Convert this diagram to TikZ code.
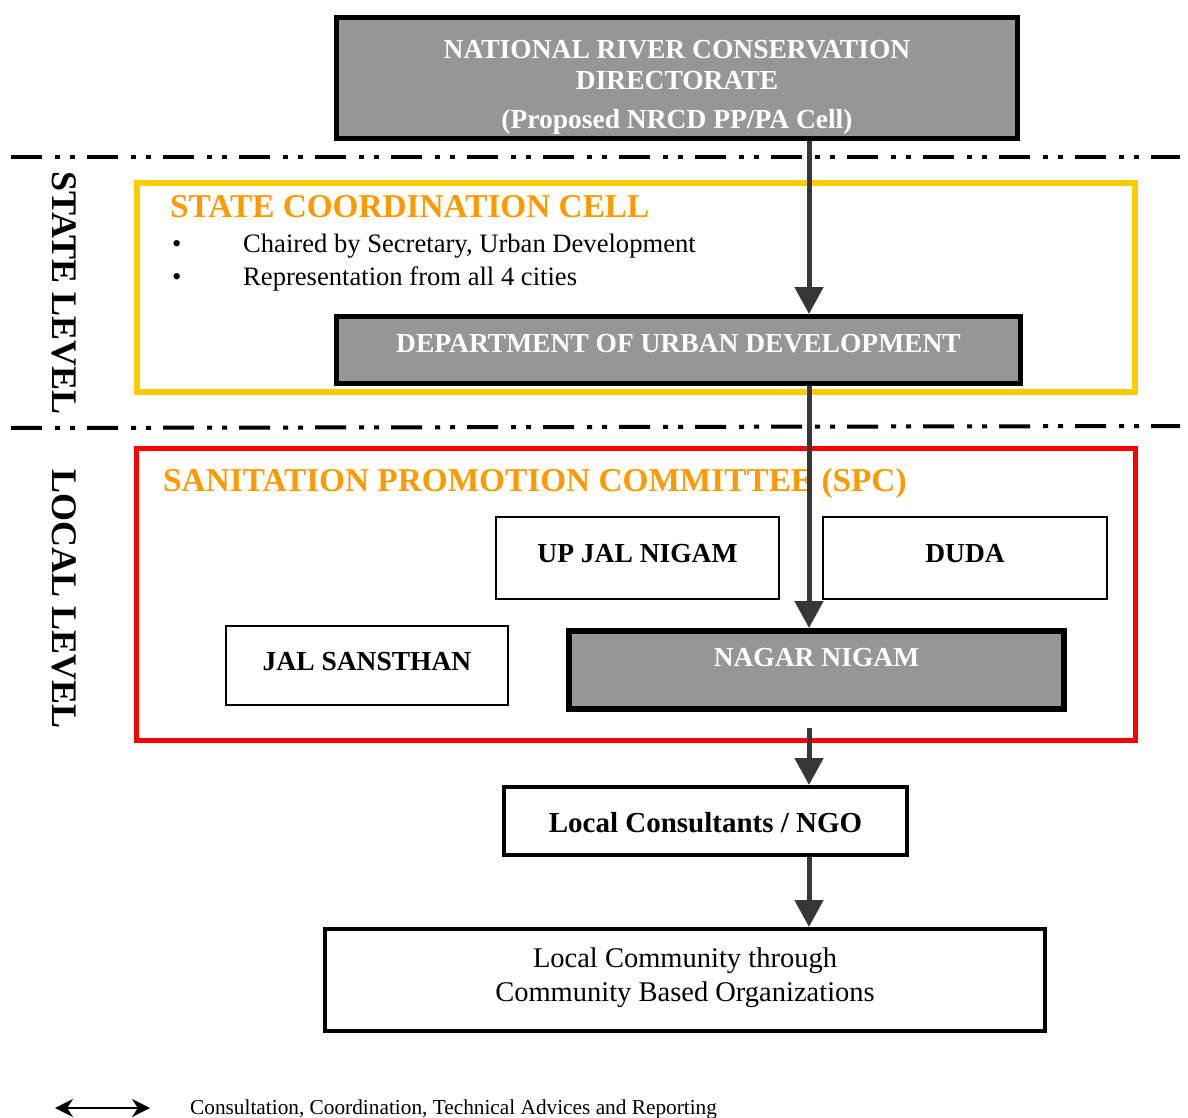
\documentclass[tikz,border=0pt]{standalone}
\usepackage{fontspec}
\setmainfont{Liberation Serif}
\usetikzlibrary{arrows.meta}
\definecolor{boxgray}{RGB}{150,150,150}
\definecolor{titleorange}{RGB}{255,153,0}
\definecolor{cellyellow}{RGB}{255,204,0}
\definecolor{arrowgray}{RGB}{55,55,55}
\begin{document}
\begin{tikzpicture}[x=1pt,y=-1pt,
  boxfont/.style={font=\bfseries\fontsize{27.5}{31}\selectfont},
  graybox/.style={draw=black, fill=boxgray, inner sep=0pt, text=white, boxfont},
  whitebox/.style={draw=black, line width=2pt, fill=white, inner sep=0pt, boxfont},
  frame/.style={line width=#1pt, inner sep=0pt},
  levelline/.style={line width=4pt, dash pattern=on 31pt off 13pt on 5pt off 10pt on 5pt off 12pt},
  flow/.style={draw=arrowgray, line width=5pt, -{Triangle[length=27pt,width=28pt]}},
  leveltext/.style={rotate=-90, inner sep=0pt, font=\bfseries\fontsize{36}{40}\selectfont},
  celltitle/.style={anchor=base west, inner sep=0pt, text=titleorange, font=\bfseries\fontsize{33.3}{36}\selectfont},
  bullettext/.style={anchor=base west, inner sep=0pt, font=\fontsize{26.6}{30}\selectfont},
]
\useasboundingbox (0,0) rectangle (1188,1118);

% level separators
\coordinate (t1) at (11,157);
\coordinate (t2) at (1180,157);
\coordinate (b1) at (11,428);
\coordinate (b2) at (1180,426);
\draw[levelline] (t1) -- (t2);
\draw[levelline] (b1) -- (b2);

% level labels
\node[leveltext] (statelvl) at (64,293) {STATE LEVEL};
\node[leveltext] (locallvl) at (64,599) {LOCAL LEVEL};

% top box
\node[graybox, line width=5pt, minimum width=681pt, minimum height=121pt] (nrcd) at (677,78) {};
\node[align=center, anchor=north, inner sep=0pt, text=white, boxfont] (nrcdtext) at (677,40)
  {NATIONAL RIVER CONSERVATION\\DIRECTORATE\\[8pt](Proposed NRCD PP/PA Cell)};

% state coordination cell
\node[draw=cellyellow, frame=6, minimum width=998pt, minimum height=209pt] (scc) at (636,287.5) {};
\node[celltitle] (scctitle) at (170,217) {STATE COORDINATION CELL};
\node[bullettext] (bul1) at (172,252) {•};
\node[bullettext] (bul2) at (172,285) {•};
\node[bullettext] (item1) at (243,252) {Chaired by Secretary, Urban Development};
\node[bullettext] (item2) at (243,285) {Representation from all 4 cities};

\node[graybox, line width=5pt, minimum width=684pt, minimum height=67pt, text height=18pt, text depth=14pt] (dud) at (678.5,350) {DEPARTMENT OF URBAN DEVELOPMENT};

% sanitation promotion committee
\node[draw=red, frame=5, minimum width=999pt, minimum height=292pt] (spc) at (636,594.5) {};
\node[celltitle] (spctitle) at (163,491) {SANITATION PROMOTION COMMITTEE (SPC)};

\node[whitebox, minimum width=283pt, minimum height=82pt, text height=18pt, text depth=10pt] (upjal) at (637.5,558) {UP JAL NIGAM};
\node[whitebox, minimum width=284pt, minimum height=82pt, text height=18pt, text depth=10pt] (duda) at (965,558) {DUDA};
\node[whitebox, minimum width=282pt, minimum height=79pt, text height=18pt, text depth=8pt] (jal) at (367,665.5) {JAL SANSTHAN};
\node[graybox, line width=6pt, minimum width=495pt, minimum height=78pt, text height=18pt, text depth=26pt] (nagar) at (816.5,670) {NAGAR NIGAM};

% lower boxes
\node[whitebox, line width=4pt, minimum width=403pt, minimum height=68pt, text height=22pt, text depth=0pt, font=\bfseries\fontsize{29}{32}\selectfont] (ngo) at (705.5,821) {Local Consultants / NGO};
\node[whitebox, line width=4pt, minimum width=720pt, minimum height=102pt] (lcc) at (685,980) {};
\node[align=center, inner sep=0pt, font=\fontsize{28.5}{34}\selectfont] (lcctext) at (685,977.5) {Local Community through\\Community Based Organizations};

% flow arrows
\coordinate (ax) at (809,0);
\coordinate (a3s) at (809,728);
\draw[flow] (nrcd.south -| ax) -- (dud.north -| ax);
\draw[flow] (dud.south -| ax) -- (nagar.north -| ax);
\draw[flow] (a3s) -- (ngo.north -| ax);
\draw[flow] (ngo.south -| ax) -- (lcc.north -| ax);

% legend
\coordinate (l1) at (55,1108);
\coordinate (l2) at (150,1108);
\draw[line width=2pt, {Stealth[length=18pt,width=18pt]}-{Stealth[length=18pt,width=18pt]}] (l1) -- (l2);
\node[anchor=base west, inner sep=0pt, font=\fontsize{21.3}{24}\selectfont] (legtext) at (190,1114) {Consultation, Coordination, Technical Advices and Reporting};
\end{tikzpicture}
\end{document}
